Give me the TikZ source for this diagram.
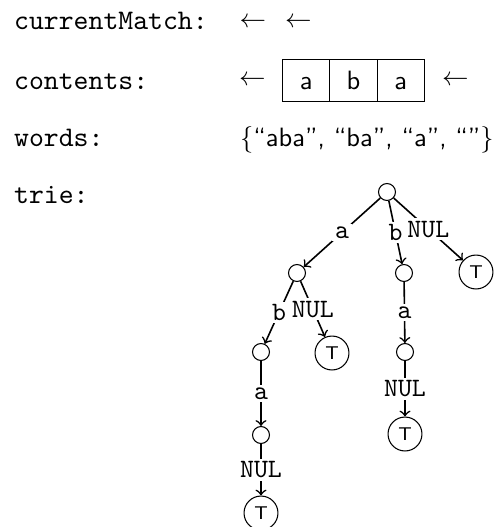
\documentclass[tikz,border=0pt]{standalone}
\usetikzlibrary{arrows}

\begin{document}
\begin{tikzpicture}[x=0.3773pt,y=-0.3773pt,inner sep=1pt,
  field/.style={anchor=base west,font=\fontsize{10.7}{12}\selectfont\ttfamily},
  cell/.style={draw,minimum width=17.8pt,minimum height=16.1pt,inner sep=0pt,
    text height=6.9pt,text depth=0pt,font=\sffamily},
  tnode/.style={circle,draw,minimum size=6.4pt,inner sep=0pt},
  term/.style={circle,draw,minimum size=12.8pt,inner sep=0pt,font=\scriptsize\sffamily},
  lbl/.style={midway,fill=white,inner sep=1pt,font=\ttfamily},
  edge/.style={->,semithick}]
\useasboundingbox (0,0) rectangle (493,527);
% fields on the left
\node[field] (cm) at (11,29) {currentMatch:};
\node[field] (ct) at (11,89) {contents:};
\node[field] (wd) at (11,146) {words:};
\node[field] (tr) at (11,203) {trie:};
% currentMatch and contents
\node (cm1) at (253,22.5) {$\leftarrow$};
\node (cm2) at (298.5,22.5) {$\leftarrow$};
\node (ctl) at (252.5,81) {$\leftarrow$};
\node[cell] (c1) at (306.2,80.6) {a};
\node[cell] (c2) at (353.5,80.6) {b};
\node[cell] (c3) at (400.8,80.6) {a};
\node (ctr) at (455.5,81) {$\leftarrow$};
% words
\node[anchor=base west,font=\sffamily] (ws) at (237,146) {$\{$``aba'', ``ba'', ``a'', ``''$\}$};
% trie
\node[tnode] (r) at (387,192) {};
\node[tnode] (na) at (297,273) {};
\node[tnode] (nb) at (404,273) {};
\node[term] (t1) at (476,272) {T};
\node[tnode] (nab) at (261,352) {};
\node[term] (t2) at (332,353) {T};
\node[tnode] (nba) at (405,352) {};
\node[tnode] (naba) at (261,435) {};
\node[term] (t3) at (405,434) {T};
\node[term] (t4) at (261,513) {T};
\draw[edge] (r) -- node[lbl] {a} (na);
\draw[edge] (r) -- node[lbl] {b} (nb);
\draw[edge] (r) -- node[lbl] {NUL} (t1);
\draw[edge] (na) -- node[lbl] {b} (nab);
\draw[edge] (na) -- node[lbl] {NUL} (t2);
\draw[edge] (nb) -- node[lbl] {a} (nba);
\draw[edge] (nab) -- node[lbl] {a} (naba);
\draw[edge] (nba) -- node[lbl] {NUL} (t3);
\draw[edge] (naba) -- node[lbl] {NUL} (t4);
\end{tikzpicture}
\end{document}
